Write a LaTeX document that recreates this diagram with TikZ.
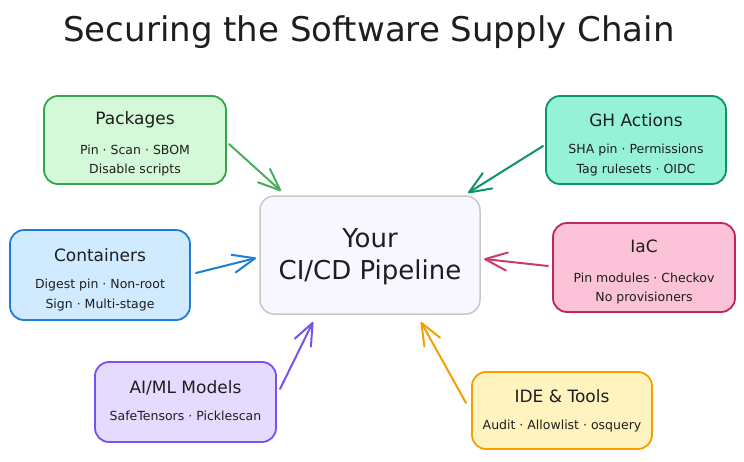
\documentclass[tikz,border=0pt]{standalone}
\usepackage{fontspec}
\setmainfont{DejaVu Sans}
\usetikzlibrary{arrows.meta}
\definecolor{gF}{HTML}{D3F9D8}\definecolor{gD}{HTML}{37A34A}
\definecolor{tF}{HTML}{96F2D7}\definecolor{tD}{HTML}{0C9468}
\definecolor{bF}{HTML}{D0EBFF}\definecolor{bD}{HTML}{1C7ED6}
\definecolor{pF}{HTML}{FCC2D7}\definecolor{pD}{HTML}{C2255C}
\definecolor{vF}{HTML}{E5DBFF}\definecolor{vD}{HTML}{7950F2}
\definecolor{yF}{HTML}{FFF3BF}\definecolor{yD}{HTML}{F59F00}
\definecolor{cF}{HTML}{F8F7FF}\definecolor{cD}{HTML}{C8C8CC}
\definecolor{ink}{HTML}{1E1E1E}
\tikzset{
  box/.style={draw, rounded corners=14pt, line width=1.8pt, inner sep=0pt},
  head/.style={font=\fontsize{17}{20}\selectfont, text=ink},
  item/.style={font=\fontsize{12.5}{15}\selectfont, text=ink},
  big/.style={font=\fontsize{26}{30}\selectfont, text=ink},
  arr/.style={line width=2pt, line cap=round, -{Straight Barb[length=22pt, width=18pt, line width=2pt, round]}},
}
\begin{document}
\begin{tikzpicture}[x=1pt, y=-1pt]
\useasboundingbox (0,0) rectangle (744,461);
\node[font=\fontsize{34}{38}\selectfont, text=ink] (title) at (369,32) {Securing the Software Supply Chain};
% boxes
\node[box, fill=gF, draw=gD, minimum width=182pt, minimum height=88pt] (pk) at (135,140) {};
\node[box, fill=tF, draw=tD, minimum width=180pt, minimum height=88pt] (gh) at (636,140) {};
\node[box, fill=bF, draw=bD, minimum width=180pt, minimum height=90pt] (ct) at (100,275) {};
\node[box, fill=cF, draw=cD, line width=1.5pt, minimum width=220pt, minimum height=118pt] (cc) at (370,255) {};
\node[box, fill=pF, draw=pD, minimum width=182pt, minimum height=89pt] (iac) at (644,267.5) {};
\node[box, fill=vF, draw=vD, minimum width=181pt, minimum height=80pt] (ai) at (185.5,402) {};
\node[box, fill=yF, draw=yD, minimum width=180pt, minimum height=77pt] (ide) at (562,410.5) {};
% texts
\node[head] (pkh) at (135,120) {Packages};
\node[item] (pk1) at (135,150) {Pin · Scan · SBOM};
\node[item] (pk2) at (135,170) {Disable scripts};
\node[head] (ghh) at (636,120) {GH Actions};
\node[item] (gh1) at (636,150) {SHA pin · Permissions};
\node[item] (gh2) at (636,170) {Tag rulesets · OIDC};
\node[head] (cth) at (100,255) {Containers};
\node[item] (ct1) at (100,285) {Digest pin · Non-root};
\node[item] (ct2) at (100,305) {Sign · Multi-stage};
\node[big] (cc1) at (370,238) {Your};
\node[big] (cc2) at (370,272) {CI/CD Pipeline};
\node[head] (iach) at (644,246) {IaC};
\node[item] (iac1) at (644,278) {Pin modules · Checkov};
\node[item] (iac2) at (644,298) {No provisioners};
\node[head] (aih) at (185.5,388) {AI/ML Models};
\node[item] (ai1) at (185.5,416) {SafeTensors · Picklescan};
\node[head] (ideh) at (562,396) {IDE \& Tools};
\node[item] (ide1) at (562,426) {Audit · Allowlist · osquery};
% arrow endpoints
\coordinate (pkA) at (229,144); \coordinate (pkB) at (281,191);
\coordinate (ghA) at (543,146); \coordinate (ghB) at (468,193);
\coordinate (ctA) at (196,273); \coordinate (ctB) at (256,258);
\coordinate (iacA) at (548,266); \coordinate (iacB) at (484,259);
\coordinate (aiA) at (280,389); \coordinate (aiB) at (313,322);
\coordinate (ideA) at (466,403); \coordinate (ideB) at (421,322);
\draw[arr, draw=gD!90] (pkA) -- (pkB);
\draw[arr, draw=tD] (ghA) -- (ghB);
\draw[arr, draw=bD] (ctA) -- (ctB);
\draw[arr, draw=pD!90] (iacA) -- (iacB);
\draw[arr, draw=vD] (aiA) -- (aiB);
\draw[arr, draw=yD] (ideA) -- (ideB);
\end{tikzpicture}
\end{document}
